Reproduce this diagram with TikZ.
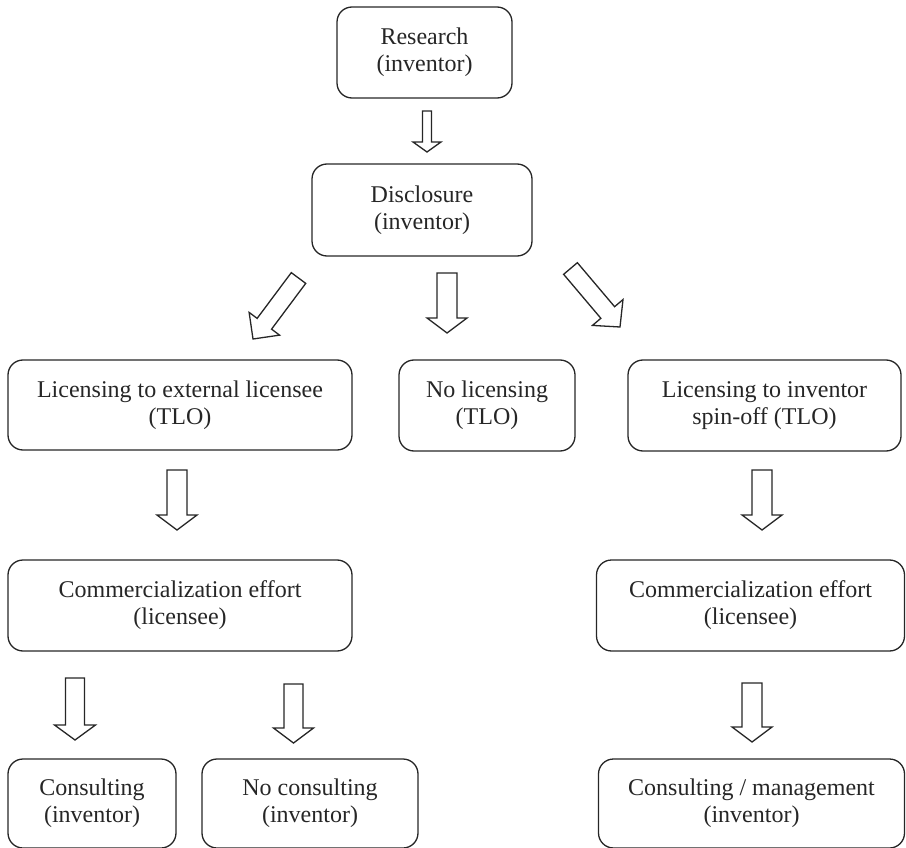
\documentclass[tikz,border=0pt]{standalone}
\usepackage{fontspec}
\setmainfont{Liberation Serif}
\usetikzlibrary{calc}
\newcommand{\blockarr}[5]{%
  \path ($(#2)!#5!(#1)$) coordinate (hb);
  \draw[arrowshape] ($(#1)!#3!90:(#2)$) -- ($(hb)!#3!90:(#2)$) -- ($(hb)!#4!90:(#2)$) -- (#2)
    -- ($(hb)!#4!-90:(#2)$) -- ($(hb)!#3!-90:(#2)$) -- ($(#1)!#3!-90:(#2)$) -- cycle;
}
\begin{document}
\begin{tikzpicture}[x=1pt,y=-1pt,
  box/.style={draw=black!85, line width=1.3pt, rounded corners=15pt, align=center, inner sep=0pt,
    font=\fontsize{24}{27}\selectfont, text=black!85},
  arrowshape/.style={draw=black!85, line width=1.3pt, line join=miter, fill=white}]
\useasboundingbox (0,0) rectangle (906,848);
% boxes
\node[box, minimum width=175pt, minimum height=91pt] (research) at (424.5,52.5) {Research\\(inventor)};
\node[box, minimum width=220pt, minimum height=92pt] (disclosure) at (422,210) {Disclosure\\(inventor)};
\node[box, minimum width=344pt, minimum height=90pt] (licext) at (180,405) {Licensing to external licensee\\(TLO)};
\node[box, minimum width=176pt, minimum height=91pt] (nolic) at (487,405.5) {No licensing\\(TLO)};
\node[box, minimum width=273pt, minimum height=91pt] (licinv) at (764.5,405.5) {Licensing to inventor\\spin-off (TLO)};
\node[box, minimum width=344pt, minimum height=91pt] (comml) at (180,605.5) {Commercialization effort\\(licensee)};
\node[box, minimum width=308pt, minimum height=91pt] (commr) at (750.5,605.5) {Commercialization effort\\(licensee)};
\node[box, minimum width=168pt, minimum height=89pt] (consult) at (92,803.5) {Consulting\\(inventor)};
\node[box, minimum width=216pt, minimum height=89pt] (noconsult) at (310,803.5) {No consulting\\(inventor)};
\node[box, minimum width=306pt, minimum height=89pt] (consmgmt) at (751.5,803.5) {Consulting / management\\(inventor)};
% arrow endpoints
\coordinate (a1t) at (427,111);   \coordinate (a1h) at (427,152);
\coordinate (a2t) at (447,273);   \coordinate (a2h) at (447,333);
\coordinate (a3t) at (298.5,278); \coordinate (a3h) at (253,339);
\coordinate (a4t) at (570.5,268.5); \coordinate (a4h) at (620,327);
\coordinate (a5t) at (177,470);   \coordinate (a5h) at (177,530);
\coordinate (a6t) at (762,470);   \coordinate (a6h) at (762,530);
\coordinate (a7t) at (75,678);    \coordinate (a7h) at (75,740);
\coordinate (a8t) at (293.5,684); \coordinate (a8h) at (293.5,743);
\coordinate (a9t) at (752,683);   \coordinate (a9h) at (752,742);
% block arrows
\blockarr{a1t}{a1h}{4.5pt}{14pt}{10pt}
\blockarr{a2t}{a2h}{10pt}{20pt}{15pt}
\blockarr{a3t}{a3h}{9pt}{19pt}{19pt}
\blockarr{a4t}{a4h}{9pt}{20pt}{19pt}
\blockarr{a5t}{a5h}{10pt}{20pt}{15pt}
\blockarr{a6t}{a6h}{10pt}{20pt}{15pt}
\blockarr{a7t}{a7h}{9.5pt}{20.5pt}{15pt}
\blockarr{a8t}{a8h}{9.5pt}{20pt}{15pt}
\blockarr{a9t}{a9h}{10pt}{20pt}{15pt}
\end{tikzpicture}
\end{document}
